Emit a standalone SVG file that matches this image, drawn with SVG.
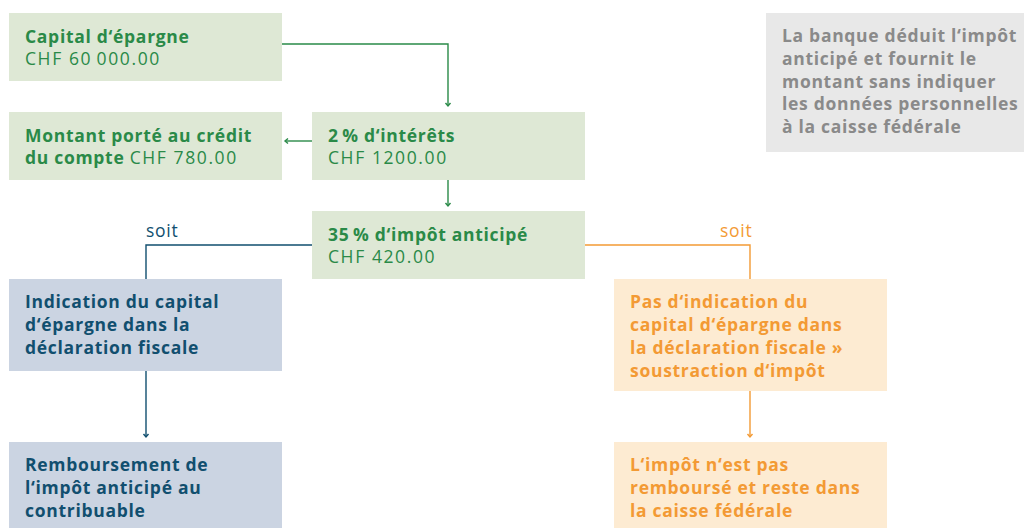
<svg xmlns="http://www.w3.org/2000/svg" width="1024" height="528" viewBox="0 0 1024 528">
<style>
text{font-family:"Open Sans","Liberation Sans",sans-serif;font-size:17.5px;letter-spacing:0.7px}
.b{font-weight:700}
.r{letter-spacing:1.6px}
.g{fill:#2a8a48}
.gr{fill:#dee8d5}
.bl{fill:#cbd4e2}
.blt{fill:#114f6f}
.or{fill:#fdebd2}
.ort{fill:#f39a34}
.gy{fill:#e8e8e8}
.gyt{fill:#8a8a8a}
.cg{stroke:#2a8a48;fill:none;stroke-width:1.4}
.cb{stroke:#114f6f;fill:none;stroke-width:1.4}
.co{stroke:#f39a34;fill:none;stroke-width:1.4}
</style>
<defs>
<marker id="mg" markerWidth="8" markerHeight="8" refX="4" refY="4" orient="auto" markerUnits="userSpaceOnUse"><polyline points="1,1.5 4,4 1,6.5" fill="none" stroke="#2a8a48" stroke-width="1.4"/></marker>
<marker id="mb" markerWidth="8" markerHeight="8" refX="4" refY="4" orient="auto" markerUnits="userSpaceOnUse"><polyline points="1,1.5 4,4 1,6.5" fill="none" stroke="#114f6f" stroke-width="1.4"/></marker>
<marker id="mo" markerWidth="8" markerHeight="8" refX="4" refY="4" orient="auto" markerUnits="userSpaceOnUse"><polyline points="1,1.5 4,4 1,6.5" fill="none" stroke="#f39a34" stroke-width="1.4"/></marker>
</defs>
<g id="connectors">
<polyline class="cg" points="282,44 448,44 448,106" marker-end="url(#mg)"/>
<polyline class="cg" points="312,141 285,141" marker-end="url(#mg)"/>
<polyline class="cg" points="448,180 448,206" marker-end="url(#mg)"/>
<polyline class="cb" points="312,245 146,245 146,279"/>
<polyline class="co" points="585,245 750,245 750,279"/>
<polyline class="cb" points="146,371 146,437" marker-end="url(#mb)"/>
<polyline class="co" points="750,391 750,437" marker-end="url(#mo)"/>
<text x="146" y="237" fill="#114f6f">soit</text>
<text x="720" y="237" fill="#f39a34">soit</text>
</g>
<g id="capital"><rect class="gr" x="9" y="13" width="273" height="68"/>
<text x="25" y="43" class="b g">Capital d‘épargne</text>
<text x="25" y="65" class="g r">CHF 60&#8201;000.00</text></g>
<g id="montant"><rect class="gr" x="9" y="112" width="273" height="68"/>
<text x="25" y="142" class="b g">Montant porté au crédit</text>
<text x="25" y="164" class="g"><tspan class="b">du compte</tspan> <tspan class="r">CHF 780.00</tspan></text></g>
<g id="interets"><rect class="gr" x="312" y="112" width="273" height="68"/>
<text x="328" y="142" class="b g">2&#8201;% d‘intérêts</text>
<text x="328" y="164" class="g r">CHF 1200.00</text></g>
<g id="impot"><rect class="gr" x="312" y="211" width="273" height="68"/>
<text x="328" y="241" class="b g">35&#8201;% d‘impôt anticipé</text>
<text x="328" y="263" class="g r">CHF 420.00</text></g>
<g id="indication"><rect class="bl" x="9" y="279" width="273" height="92"/>
<text x="25" y="308" class="b blt">Indication du capital</text>
<text x="25" y="331" class="b blt">d‘épargne dans la</text>
<text x="25" y="354" class="b blt">déclaration fiscale</text></g>
<g id="remboursement"><rect class="bl" x="9" y="442" width="273" height="86"/>
<text x="25" y="471" class="b blt">Remboursement de</text>
<text x="25" y="494" class="b blt">l‘impôt anticipé au</text>
<text x="25" y="517" class="b blt">contribuable</text></g>
<g id="pas-indication"><rect class="or" x="614" y="279" width="273" height="112"/>
<text x="630" y="308" class="b ort">Pas d‘indication du</text>
<text x="630" y="331" class="b ort">capital d‘épargne dans</text>
<text x="630" y="354" class="b ort">la déclaration fiscale »</text>
<text x="630" y="377" class="b ort">soustraction d‘impôt</text></g>
<g id="non-rembourse"><rect class="or" x="614" y="442" width="273" height="86"/>
<text x="630" y="471" class="b ort">L‘impôt n‘est pas</text>
<text x="630" y="494" class="b ort">remboursé et reste dans</text>
<text x="630" y="517" class="b ort">la caisse fédérale</text></g>
<g id="banque"><rect class="gy" x="766" y="13" width="258" height="139"/>
<text x="782" y="42" class="b gyt">La banque déduit l‘impôt</text>
<text x="782" y="65" class="b gyt">anticipé et fournit le</text>
<text x="782" y="88" class="b gyt">montant sans indiquer</text>
<text x="782" y="110" class="b gyt">les données personnelles</text>
<text x="782" y="133" class="b gyt">à la caisse fédérale</text></g>
</svg>
